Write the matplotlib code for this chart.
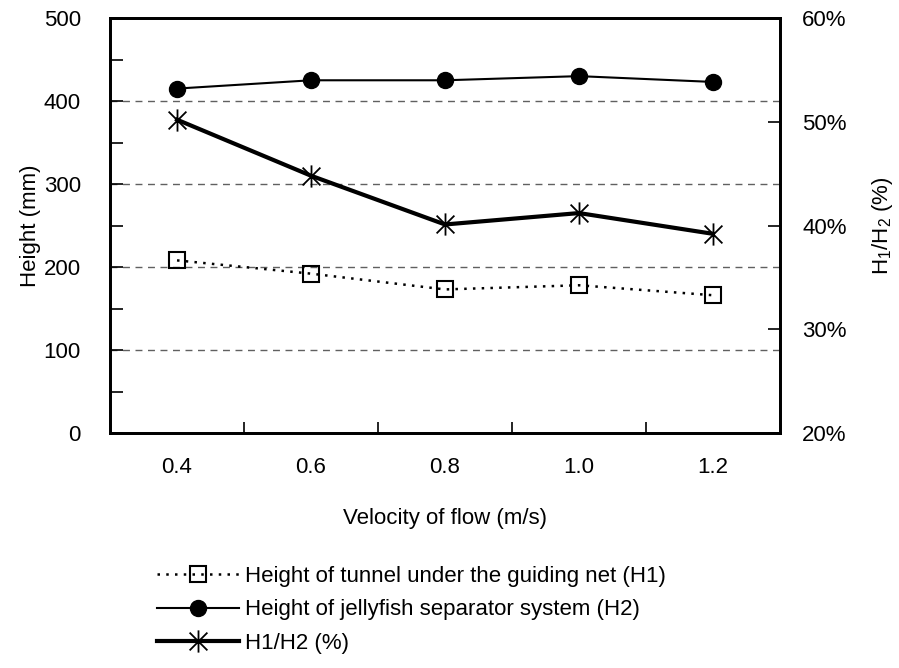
import numpy as np
import matplotlib
matplotlib.use("Agg")
import matplotlib.pyplot as plt
from matplotlib.path import Path
from matplotlib.ticker import MultipleLocator, PercentFormatter

plt.rcParams['font.family'] = ['Liberation Sans', 'DejaVu Sans']
plt.rcParams['mathtext.fontset'] = 'custom'
plt.rcParams['mathtext.rm'] = 'Liberation Sans'

# ── Data ───────────────────────────────────────────────
velocity = ["0.4", "0.6", "0.8", "1.0", "1.2"]
h1_tunnel = [208, 192, 173, 178, 166]          # mm
h2_separator = [415, 425, 425, 430, 423]       # mm
ratio_pct = [50.2, 44.8, 40.1, 41.2, 39.2]     # %
labels = ["Height of tunnel under the guiding net (H1)",
          "Height of jellyfish separator system (H2)",
          "H1/H2 (%)"]
# ───────────────────────────────────────────────────────

# Excel-style star marker: an X with a vertical bar
star = Path([(-1, -1), (1, 1), (-1, 1), (1, -1), (0, -1.25), (0, 1.25)],
            [Path.MOVETO, Path.LINETO, Path.MOVETO, Path.LINETO,
             Path.MOVETO, Path.LINETO])

FS = 16
fig = plt.figure(figsize=(8.99, 6.68), dpi=100)
ax = fig.add_axes([0.1224, 0.3518, 0.7452, 0.6212])
ax2 = ax.twinx()

x = np.arange(len(velocity))

l1, = ax.plot(x, h1_tunnel, color='black', lw=1.8, ls=(0, (1, 2.5)),
              marker='s', ms=11.5, mfc='none', mec='black', mew=1.5,
              label=labels[0])
l2, = ax.plot(x, h2_separator, color='black', lw=1.5,
              marker='o', ms=11.5, mfc='black', mec='black',
              label=labels[1])
l3, = ax2.plot(x, ratio_pct, color='black', lw=3,
               marker=star, ms=16, mec='black', mew=1.3,
               label=labels[2])

# grid on left axis
for yv in [100, 200, 300, 400]:
    ax.axhline(yv, color='#606060', lw=1, ls=(0, (5, 4)), zorder=0)

ax.set_xlim(-0.5, len(velocity) - 0.5)
ax.set_ylim(0, 500)
ax.yaxis.set_major_locator(MultipleLocator(100))
ax.yaxis.set_minor_locator(MultipleLocator(50))
ax.set_xticks(x)
ax.set_xticklabels(velocity)
ax.set_xticks(np.arange(0.5, len(velocity) - 1, 1), minor=True)
ax.tick_params(axis='x', which='major', length=0, pad=17, labelsize=FS)
ax.tick_params(axis='x', which='minor', direction='in', length=8, width=1.2)
ax.tick_params(axis='y', which='both', direction='in', length=9, width=1.2,
               labelsize=FS, pad=21)

ax2.set_ylim(20, 60)
ax2.yaxis.set_major_locator(MultipleLocator(10))
ax2.yaxis.set_major_formatter(PercentFormatter(decimals=0))
ax2.tick_params(axis='y', direction='in', length=9, width=1.2,
                labelsize=FS, pad=16)

for a in (ax, ax2):
    for s in a.spines.values():
        s.set_linewidth(2)
        s.set_color('black')

ax.set_xlabel("Velocity of flow (m/s)", fontsize=FS, labelpad=22)
ax.set_ylabel("Height (mm)", fontsize=FS, labelpad=2)
ax2.set_ylabel(r"H$_\mathregular{1}$/H$_\mathregular{2}$ (%)", fontsize=FS,
               labelpad=17)

fig.legend(handles=[l1, l2, l3], loc='upper left',
           bbox_to_anchor=(0.1747, 0.153), frameon=False, fontsize=FS,
           handlelength=3.7, handletextpad=0.27, labelspacing=0.57,
           borderaxespad=0, borderpad=0)

plt.savefig("out.png", dpi=100)
plt.close()
